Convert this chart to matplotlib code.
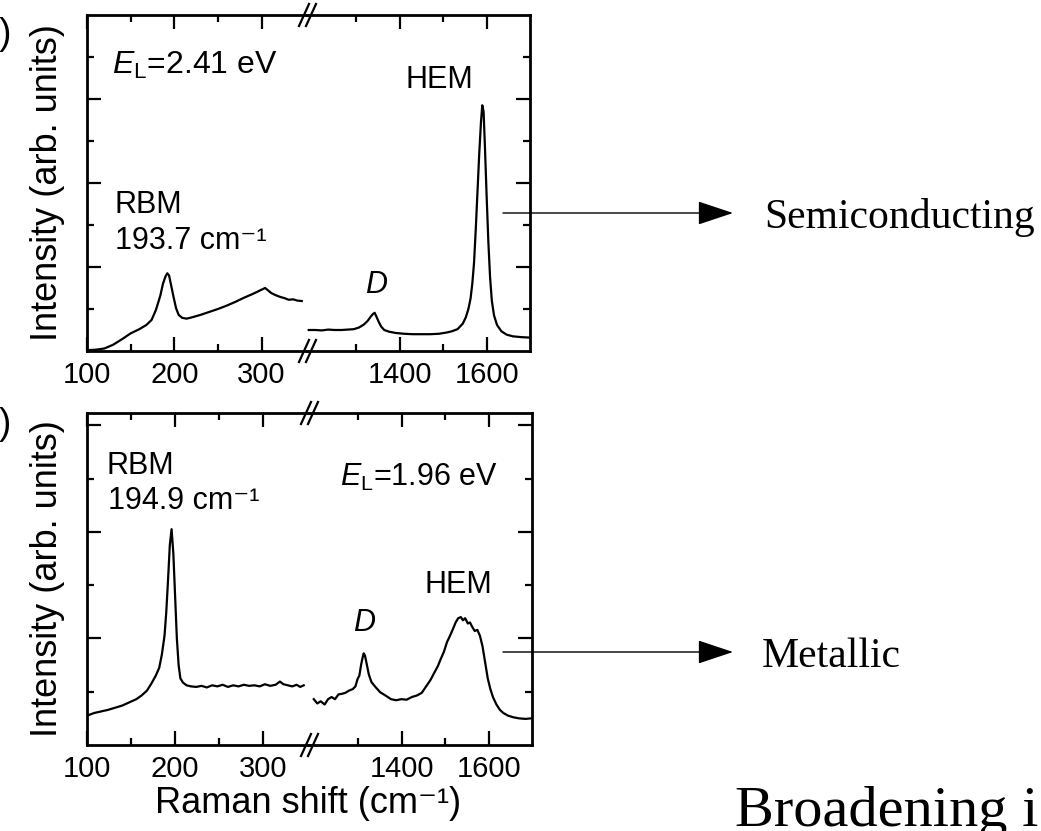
import matplotlib
matplotlib.use("Agg")
import matplotlib.pyplot as plt
from matplotlib.lines import Line2D

plt.rcParams['font.family'] = ['Liberation Sans', 'DejaVu Sans']
plt.rcParams['mathtext.fontset'] = 'custom'
plt.rcParams['mathtext.rm'] = 'Liberation Sans'
plt.rcParams['mathtext.it'] = 'Liberation Sans:italic'
plt.rcParams['mathtext.bf'] = 'Liberation Sans:bold'

# ---- semiconducting tube, E_L = 2.41 eV ----
semi_low_x = [100, 110, 120, 130, 140, 150, 160, 168, 174, 179, 184, 187, 190, 192, 194,
              196, 199, 202, 205, 209, 214, 220, 230, 240, 250, 260, 270, 280, 290, 296,
              300, 304, 307, 311, 316, 321, 326, 331, 336, 341, 346]
semi_low_y = [0.02, 0.03, 0.06, 0.15, 0.28, 0.42, 0.52, 0.62, 0.74, 0.98, 1.32, 1.6, 1.78,
              1.85, 1.8, 1.6, 1.3, 1.02, 0.86, 0.79, 0.77, 0.8, 0.86, 0.93, 1.0, 1.08, 1.17,
              1.27, 1.36, 1.42, 1.46, 1.5, 1.45, 1.38, 1.33, 1.29, 1.26, 1.22, 1.23, 1.2, 1.19]
semi_high_x = [1190, 1205, 1220, 1235, 1250, 1265, 1280, 1294, 1306, 1317, 1326, 1333, 1338,
               1342, 1346, 1351, 1357, 1364, 1375, 1390, 1410, 1430, 1450, 1470, 1490, 1508,
               1520, 1533, 1545, 1552, 1558, 1563, 1567, 1571, 1575, 1579, 1583, 1587, 1590,
               1593, 1596, 1600, 1604, 1608, 1612, 1617, 1624, 1634, 1646, 1660, 1680, 1698]
semi_high_y = [0.5, 0.5, 0.49, 0.51, 0.5, 0.5, 0.51, 0.52, 0.56, 0.63, 0.72, 0.82, 0.88,
               0.91, 0.82, 0.7, 0.58, 0.5, 0.46, 0.43, 0.41, 0.4, 0.4, 0.4, 0.41, 0.44,
               0.47, 0.52, 0.65, 0.8, 1.0, 1.25, 1.6, 2.1, 2.9, 3.8, 4.7, 5.45, 5.85, 5.7,
               4.9, 3.7, 2.6, 1.75, 1.2, 0.85, 0.62, 0.47, 0.39, 0.35, 0.33, 0.32]

# ---- metallic tube, E_L = 1.96 eV ----
met_low_x = [100, 108, 116, 124, 132, 140, 148, 156, 162, 168, 173, 178, 182, 185, 188,
             190, 192, 194, 196, 198, 200, 202, 204, 206, 209, 213, 218, 224, 230, 236,
             242, 248, 254, 260, 266, 272, 278, 284, 290, 296, 302, 308, 314, 319, 323,
             328, 333, 338, 342, 346]
met_low_y = [0.55, 0.6, 0.63, 0.66, 0.7, 0.74, 0.8, 0.86, 0.93, 1.02, 1.15, 1.3, 1.45,
             1.7, 2.05, 2.5, 3.1, 3.75, 4.05, 3.6, 2.8, 2.0, 1.5, 1.25, 1.17, 1.12, 1.1,
             1.09, 1.11, 1.08, 1.12, 1.1, 1.13, 1.09, 1.12, 1.1, 1.13, 1.11, 1.12, 1.1,
             1.14, 1.11, 1.13, 1.19, 1.14, 1.12, 1.1, 1.13, 1.09, 1.12]
met_high_x = [1197, 1205, 1213, 1222, 1230, 1238, 1246, 1254, 1262, 1270, 1278, 1287, 1293,
              1298, 1302, 1306, 1309, 1312, 1315, 1319, 1324, 1330, 1338, 1350, 1362, 1375,
              1387, 1399, 1411, 1423, 1435, 1446, 1456, 1466, 1475, 1483, 1490, 1497, 1504,
              1511, 1518, 1524, 1530, 1536, 1541, 1546, 1552, 1557, 1562, 1568, 1574, 1580,
              1586, 1592, 1598, 1604, 1610, 1618, 1626, 1634, 1645, 1657, 1670, 1685, 1698]
met_high_y = [0.86, 0.78, 0.82, 0.76, 0.86, 0.9, 0.86, 0.95, 0.96, 0.98, 1.02, 1.05, 1.1,
              1.24, 1.3, 1.5, 1.62, 1.72, 1.68, 1.52, 1.32, 1.18, 1.1, 0.99, 0.93, 0.86,
              0.84, 0.86, 0.85, 0.9, 0.93, 0.98, 1.1, 1.22, 1.36, 1.48, 1.62, 1.75, 1.93,
              2.05, 2.18, 2.3, 2.38, 2.4, 2.34, 2.38, 2.28, 2.3, 2.22, 2.14, 2.16, 2.05,
              1.85, 1.55, 1.25, 1.05, 0.9, 0.76, 0.66, 0.6, 0.55, 0.52, 0.5, 0.49, 0.5]

W, H = 1041.0, 831.0
fig = plt.figure(figsize=(W / 100, H / 100), dpi=100)


def box(l, t, r, b):
    return [l / W, 1 - b / H, (r - l) / W, (b - t) / H]


def pline(x0, y0, x1, y1, **kw):
    fig.add_artist(Line2D([x0 / W, x1 / W], [1 - y0 / H, 1 - y1 / H],
                          transform=fig.transFigure, color='k', **kw))


def broken_panel(l, r, brk, t, b, ymax, yminor):
    a1 = fig.add_axes(box(l, t, brk, b))
    a2 = fig.add_axes(box(brk, t, r, b))
    a1.set_xlim(100, 352)
    a2.set_xlim(1186, 1700)
    for ax in (a1, a2):
        ax.set_ylim(0, ymax)
        ax.set_yticks([2, 4, 6])
        ax.set_yticks(yminor, minor=True)
        ax.tick_params(which='both', direction='in', top=True, width=1.6,
                       labelsize=21, pad=7, labelleft=False)
        ax.tick_params(which='major', length=10)
        ax.tick_params(which='minor', length=5)
        for s in ax.spines.values():
            s.set_linewidth(2)
        ax.patch.set_alpha(0)
    a1.spines['right'].set_visible(False)
    a2.spines['left'].set_visible(False)
    a1.tick_params(axis='y', which='both', left=True, right=False)
    a2.tick_params(axis='y', which='both', left=False, right=True)
    a1.set_xticks([100, 200, 300])
    a1.set_xticks([150, 250], minor=True)
    a2.set_xticks([1400, 1600])
    a2.set_xticks([1300, 1500], minor=True)
    # "//" break marks
    for yy in (t, b):
        for dx in (-3, 4):
            pline(brk + dx - 5, yy + 11, brk + dx + 5, yy - 11, lw=1.6)
    return a1, a2


# top panel
t1, t2 = broken_panel(87, 530, 307, 15, 351, 8, [1, 3, 5, 7])
t1.plot(semi_low_x, semi_low_y, color='k', lw=1.6)
t2.plot(semi_high_x, semi_high_y, color='k', lw=1.6)
t1.text(129, 6.59, r'$\mathit{E}_{\mathrm{L}}$=2.41 eV', fontsize=23)
t1.text(132, 3.29, 'RBM', fontsize=22)
t1.text(132, 2.42, '193.7 cm⁻¹', fontsize=22)
t2.text(1414, 6.27, 'HEM', fontsize=22)
t2.text(1320, 1.39, 'D', fontsize=22, style='italic')

# bottom panel
b1, b2 = broken_panel(87, 532, 309, 413, 745, 6.23, [1, 3, 5])
b1.plot(met_low_x, met_low_y, color='k', lw=1.6)
b2.plot(met_high_x, met_high_y, color='k', lw=1.6)
b1.text(122, 5.08, 'RBM', fontsize=22)
b1.text(124, 4.43, '194.9 cm⁻¹', fontsize=22)
b2.text(1258, 4.86, r'$\mathit{E}_{\mathrm{L}}$=1.96 eV', fontsize=22)
b2.text(1452, 2.86, 'HEM', fontsize=22)
b2.text(1287, 2.14, 'D', fontsize=22, style='italic')

# axis labels
for yc in (183, 579):
    fig.text(48 / W, 1 - yc / H, 'Intensity (arb. units)', rotation=90,
             ha='center', va='center', fontsize=26)
fig.text(308 / W, 1 - 786 / H, 'Raman shift (cm⁻¹)',
         ha='center', va='top', fontsize=26)
fig.text(12 / W, 1 - 35 / H, '(a)', ha='right', va='center', fontsize=26)
fig.text(12 / W, 1 - 425 / H, '(b)', ha='right', va='center', fontsize=26)

# arrows and side notes
arrow = dict(arrowstyle='-|>,head_length=1.5,head_width=0.5', color='k', lw=1,
             mutation_scale=15, shrinkA=0, shrinkB=0)
t2.annotate('', xy=(733, H - 213), xytext=(503, H - 213),
            xycoords='figure pixels', textcoords='figure pixels', arrowprops=arrow)
b2.annotate('', xy=(733, H - 652), xytext=(503, H - 652),
            xycoords='figure pixels', textcoords='figure pixels', arrowprops=arrow)
serif = ['Liberation Serif', 'DejaVu Serif']
fig.text(764 / W, 1 - 228 / H, 'Semiconducting', family=serif, fontsize=30, va='baseline')
fig.text(762 / W, 1 - 667 / H, 'Metallic', family=serif, fontsize=30, va='baseline')
fig.text(735 / W, 1 - 826 / H, 'Broadening i', family=serif, fontsize=42, va='baseline')

fig.savefig('out.png', dpi=100)
